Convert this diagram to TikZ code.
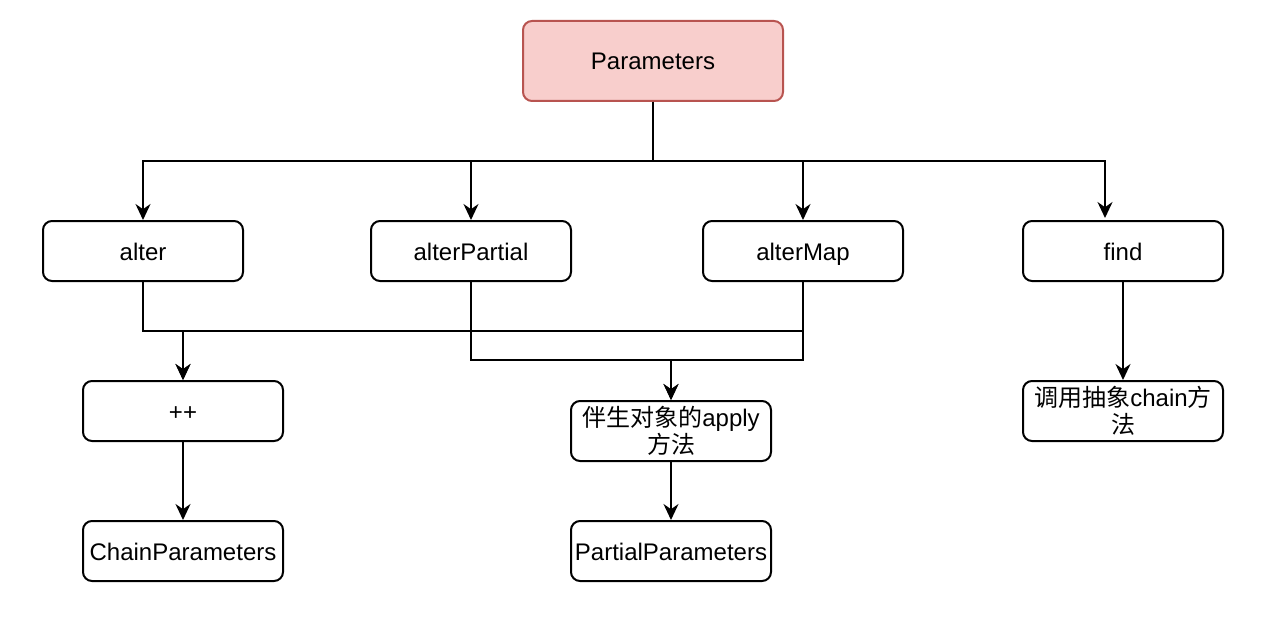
\documentclass[tikz,border=0pt]{standalone}
\usepackage{fontspec}
\setmainfont{Liberation Sans}
\newfontfamily\cjk{Noto Sans CJK SC}
\usetikzlibrary{arrows.meta}
\definecolor{pinkfill}{HTML}{F8CECC}
\definecolor{pinkdraw}{HTML}{B85450}
\tikzset{
  box/.style={draw=black, line width=1pt, rounded corners=4.5pt, fill=white,
    minimum width=100pt, minimum height=30pt, inner sep=1pt, align=center,
    font=\fontsize{12}{13.5}\selectfont},
  one/.style={text height=10pt, text depth=1pt},
  rootbox/.style={box, one, draw=pinkdraw, fill=pinkfill, minimum width=130pt, minimum height=40pt},
  arr/.style={line width=1pt, -{Stealth[length=8pt,width=7.5pt,inset=2.6pt]}},
  ln/.style={line width=1pt}
}
\begin{document}
\begin{tikzpicture}[x=0.5pt,y=-0.5pt]
\useasboundingbox (0,0) rectangle (1284,642);
\node[rootbox] (P) at (653,61) {Parameters};
\node[box,one] (alter) at (143,251) {alter};
\node[box,one] (alterPartial) at (471,251) {alterPartial};
\node[box,one] (alterMap) at (803,251) {alterMap};
\node[box,one] (find) at (1123,251) {find};
\node[box,one] (pp) at (183,411) {++};
\node[box] (apply) at (671,431) {{\cjk 伴生对象的}apply\\{\cjk 方法}};
\node[box] (call) at (1123,411) {{\cjk 调用抽象}chain{\cjk 方}\\{\cjk 法}};
\node[box,one] (chain) at (183,551) {ChainParameters};
\node[box,one] (partial) at (671,551) {PartialParameters};
\coordinate (bus) at (653,161);
\coordinate (fin) at (1105,218);
\coordinate (j1) at (183,331);
\coordinate (j2) at (671,360);
\draw[arr] (P) -- (bus) -| (alter);
\draw[arr] (P) -- (bus) -| (alterPartial);
\draw[arr] (P) -- (bus) -| (alterMap);
\draw[arr] (P) -- (bus) -| (fin);
\draw[arr] (alter) |- (j1) -- (pp);
\draw[arr] (alterMap) |- (j1) -- (pp);
\draw[arr] (alterPartial) |- (j2) -- (apply);
\draw[arr] (alterMap) |- (j2) -- (apply);
\draw[arr] (find) -- (call);
\draw[arr] (pp) -- (chain);
\draw[arr] (apply) -- (partial);
\end{tikzpicture}
\end{document}
